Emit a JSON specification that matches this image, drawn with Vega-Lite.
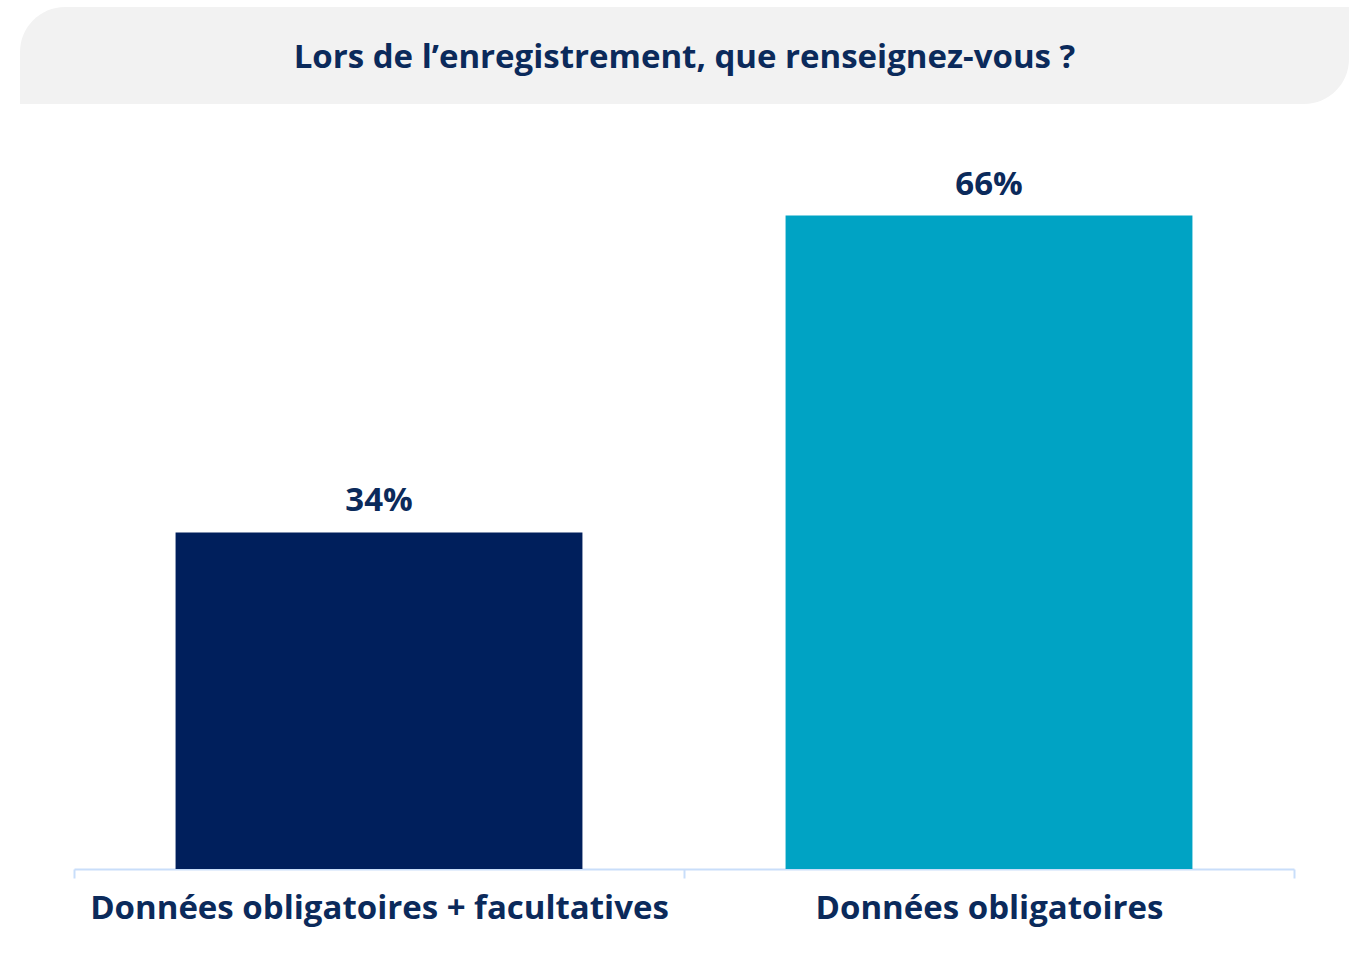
{
  "$schema": "https://vega.github.io/schema/vega-lite/v6.json",
  "background": "white",
  "padding": {"top": 7, "left": 20, "right": 0, "bottom": 10},
  "center": true,
  "spacing": 64,
  "config": {"view": {"stroke": null}, "font": "Open Sans"},
  "vconcat": [
    {
      "width": 1329,
      "height": 97,
      "data": {"values": [{"title": "Lors de l’enregistrement, que renseignez-vous ?"}]},
      "layer": [
        {
          "mark": {"type": "rect", "color": "#f2f2f2", "cornerRadiusTopLeft": 45, "cornerRadiusBottomRight": 45},
          "encoding": {}
        },
        {
          "mark": {"type": "text", "fontSize": 33, "fontWeight": "bold", "color": "#0b2a5b", "baseline": "middle", "align": "center", "dy": 2},
          "encoding": {"text": {"field": "title", "type": "nominal"}}
        }
      ]
    },
    {
      "width": 1220,
      "height": 693,
      "data": {"values": [
        {"cat": "Données obligatoires + facultatives", "pct": 34, "label": "34%"},
        {"cat": "Données obligatoires", "pct": 66, "label": "66%"}
      ]},
      "encoding": {
        "x": {
          "field": "cat", "type": "nominal", "sort": null,
          "scale": {"paddingInner": 0, "paddingOuter": 0},
          "axis": {
            "title": null, "labelAngle": 0, "labelFontSize": 33, "labelFontWeight": "bold",
            "labelColor": "#0b2a5b", "labelLimit": 0, "labelPadding": 14,
            "domainColor": "#c9defa", "domainWidth": 2, "tickColor": "#c9defa", "tickWidth": 2,
            "tickSize": 9, "tickBand": "extent"
          }
        },
        "y": {"field": "pct", "type": "quantitative", "scale": {"domain": [0, 70]}, "axis": null}
      },
      "layer": [
        {
          "mark": {"type": "bar", "width": {"band": 0.667}},
          "encoding": {
            "color": {
              "field": "cat", "type": "nominal",
              "scale": {"domain": ["Données obligatoires + facultatives", "Données obligatoires"], "range": ["#001f5c", "#00a3c4"]},
              "legend": null
            }
          }
        },
        {
          "mark": {"type": "text", "fontSize": 33, "fontWeight": "bold", "color": "#0b2a5b", "baseline": "middle", "dy": -31},
          "encoding": {"text": {"field": "label", "type": "nominal"}}
        }
      ]
    }
  ]
}
